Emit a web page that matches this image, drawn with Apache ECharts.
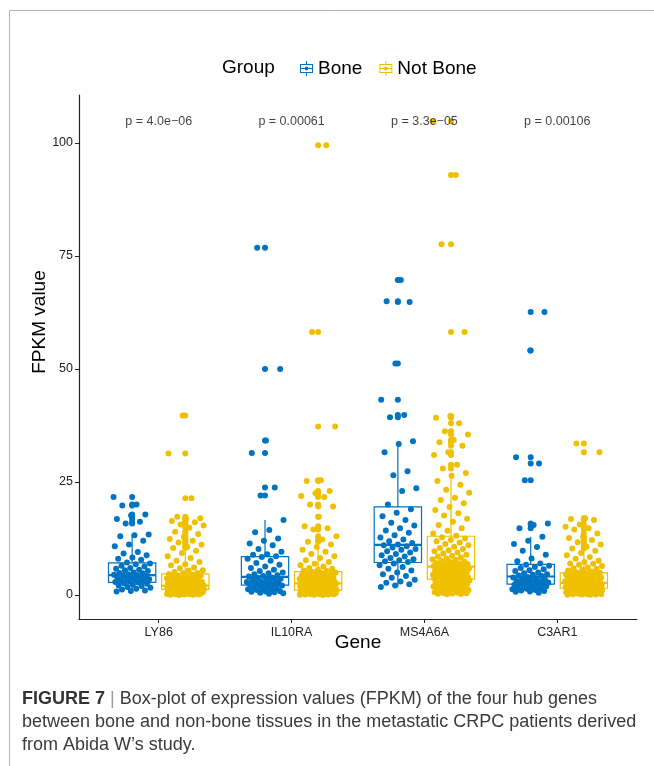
<!DOCTYPE html>
<html>
<head>
<meta charset="utf-8">
<script src="https://cdn.jsdelivr.net/npm/echarts@6/dist/echarts.min.js"></script>
<style>html,body{margin:0;padding:0;background:#fff}#c{width:654px;height:766px}</style>
</head>
<body>
<div id="c"></div>
<script>
// ---------- data ----------
const genes = ['LY86', 'IL10RA', 'MS4A6A', 'C3AR1'];
const groupNames = ['Bone', 'Not Bone'];
const pLabels = ['p = 4.0e\u221206', 'p = 0.00061', 'p = 3.3e\u221205', 'p = 0.00106'];
const yTicks = [0, 25, 50, 75, 100];
const xTicks = [0, 1, 2, 3];

const ly86Bone = [21.7,20.0,19.8,17.8,17.6,16.8,16.2,15.8,13.4,13.2,13.0,12.0,11.2,10.8,9.5,9.2,8.8,8.3,8.0,7.8,7.2,7.0,6.8,6.5,6.3,6.0,5.8,5.6,5.5,5.3,5.0,4.9,4.8,4.6,4.5,4.4,4.3,4.2,4.0,3.9,3.8,3.6,3.5,3.4,3.2,3.1,3.0,2.9,2.8,2.6,2.5,2.3,2.1,2.0,1.8,1.6,1.4,1.2,1.0,0.9,0.8];
const ly86NotBone = [39.7,31.3,21.4,17.3,17.0,16.8,16.4,16.1,15.6,15.4,14.9,14.0,13.5,12.9,12.4,12.0,11.6,11.1,10.7,10.4,
  9.8,9.3,8.6,8.2,7.6,7.3,6.8,6.6,6.1,5.9,5.5,5.4,5.1,4.9,4.8,
  4.6,4.5,4.3,4.25,4.1,4.0,3.9,3.72,3.68,3.5,3.4,3.3,3.22,3.15,3.0,2.93,2.88,2.8,2.74,2.7,2.62,2.58,2.52,2.47,2.42,2.38,2.33,2.3,2.27,2.22,2.2,2.17,2.14,2.12,2.1,
  2.06,2.02,1.97,1.95,1.9,1.87,1.83,1.8,1.79,1.74,1.7,1.69,1.65,1.62,1.6,1.56,1.55,1.51,1.5,1.47,1.44,1.43,1.4,1.39,1.36,1.35,1.33,1.32,1.3,1.3,1.29,1.28,1.27,1.26,1.25,
  1.22,1.17,1.15,1.09,1.05,1.03,0.97,0.93,0.91,0.85,0.81,0.79,0.73,0.71,0.66,0.61,0.59,0.54,0.5,0.48,0.42,0.4,0.37,0.32,0.3,0.28,0.23,0.21,0.18,0.15,0.13,0.1,0.08,0.05,0.03];

const il10raBone = [76.8,50.0,34.2,31.4,23.8,22.0,16.6,14.4,13.9,12.5,12.0,11.4,11.0,10.2,9.6,9.0,8.9,8.6,
  8.4,8.0,7.6,7.1,6.7,6.3,6.0,5.6,5.3,5.0,4.8,4.6,4.4,4.2,4.1,
  3.9,3.8,3.6,3.5,3.3,3.2,3.0,2.9,2.8,2.7,2.6,2.5,2.4,2.3,2.2,
  2.1,1.9,1.8,1.6,1.5,1.3,1.2,1.1,0.9,0.8,0.7,0.6,0.5,0.4,0.3];
const il10raNotBone = [99.5,58.2,37.3,25.4,25.2,23.0,22.5,21.9,21.7,20.0,19.6,17.3,15.2,14.8,14.5,13.0,12.3,11.8,
  11.2,10.6,10.0,9.6,9.1,8.6,8.2,7.7,7.3,6.9,6.6,6.3,6.0,5.8,5.6,5.4,5.3,
  5.1,5.0,4.9,4.75,4.6,4.52,4.4,4.2,4.12,4.0,3.9,3.83,3.7,3.6,3.52,3.45,3.38,3.3,3.2,3.16,3.08,3.0,2.96,2.9,2.86,2.81,2.79,2.75,2.71,2.69,2.66,2.64,2.62,2.61,2.6,
  2.55,2.49,2.46,2.4,2.34,2.31,2.24,2.2,2.16,2.09,2.05,2.01,1.94,1.9,1.86,1.8,1.76,1.7,1.66,1.63,1.57,1.54,1.5,1.47,1.41,1.38,1.35,1.3,1.28,1.24,1.22,1.18,1.16,1.12,1.1,
  1.08,1.04,1.02,0.98,0.96,0.92,0.9,0.87,0.82,0.8,0.77,0.72,0.7,0.67,0.62,0.6,0.57,0.52,0.5,0.46,0.44,0.39,0.37,0.33,0.3,0.28,0.24,0.2,0.18,0.16,0.12,0.1,0.07,0.05,0.03];

const ms4a6aBone = [69.7,65.0,64.8,51.2,43.2,39.8,39.3,34.0,33.4,31.6,27.4,26.5,23.6,23.0,20.0,
  19.0,18.2,17.4,16.6,16.0,15.4,14.8,14.3,13.8,13.2,12.7,12.3,11.9,11.5,11.2,
  11.0,10.8,10.5,10.2,10.0,9.7,9.4,9.1,8.8,8.5,8.2,7.9,7.7,7.5,7.3,
  7.0,6.6,6.2,5.8,5.4,5.0,4.6,4.2,3.8,3.4,3.0,2.7,2.4,2.1,1.8];
const ms4a6aNotBone = [104.8,92.9,77.6,58.2,39.6,39.2,38.0,36.2,35.5,34.3,33.8,33.0,31.6,31.0,28.8,28.0,27.0,26.4,25.2,24.4,23.3,22.6,21.5,21.0,20.3,19.5,18.8,18.1,17.6,16.9,16.2,15.5,14.8,14.2,13.6,13.1,
  12.8,12.5,12.2,11.9,11.6,11.3,11.0,10.7,10.4,10.2,9.9,9.7,9.4,9.2,8.9,8.7,8.5,8.3,8.1,7.9,7.8,7.6,7.4,7.3,7.1,7.0,6.9,6.8,6.7,6.6,6.55,6.5,6.42,6.38,6.33,6.3,
  6.2,6.1,6.02,5.9,5.8,5.7,5.62,5.5,5.4,5.33,5.2,5.1,5.02,4.9,4.8,4.72,4.6,4.5,4.42,4.3,4.22,4.18,4.1,4.03,3.98,3.92,3.88,3.82,3.78,3.72,3.68,3.63,3.6,3.57,3.52,3.5,
  3.42,3.31,3.2,3.12,3.0,2.91,2.8,2.72,2.6,2.5,2.42,2.31,2.2,2.12,2.0,1.91,1.8,1.72,1.6,1.5,1.42,1.31,1.2,1.12,1.0,0.92,0.8,0.72,0.6,0.52,0.45,0.41,0.35,0.3,0.25,0.2];

const c3ar1Bone = [62.6,54.1,30.5,29.1,25.4,15.8,15.5,14.8,12.9,12.0,11.3,10.6,9.8,8.9,8.1,7.5,7.0,
  6.7,6.5,6.2,6.0,5.7,5.5,5.3,5.0,4.8,4.6,4.5,4.3,4.2,
  4.0,3.9,3.7,3.6,3.4,3.3,3.1,3.0,2.9,2.8,2.7,2.6,2.5,2.4,
  2.3,2.2,2.0,1.9,1.8,1.7,1.5,1.4,1.3,1.1,1.0,0.9,0.8,0.7,0.5];
const c3ar1NotBone = [33.5,31.6,17.0,16.8,16.6,15.6,15.1,14.8,14.5,13.6,12.9,12.6,12.2,11.7,11.2,10.7,10.3,
  9.8,9.3,8.8,8.4,8.0,7.6,7.3,7.0,6.9,6.7,6.4,6.1,5.9,5.8,5.6,5.4,5.2,5.0,4.95,
  4.85,4.78,4.7,4.6,4.52,4.45,4.38,4.3,4.2,4.14,4.05,3.98,3.9,3.82,3.76,3.7,3.62,3.55,3.48,3.4,3.35,3.28,3.2,3.15,3.08,3.02,2.96,2.9,2.86,2.82,2.78,2.76,2.74,2.72,2.71,2.7,
  2.66,2.61,2.57,2.52,2.48,2.43,2.4,2.35,2.31,2.27,2.22,2.19,2.15,2.11,2.07,2.03,2.0,1.96,1.92,1.88,1.85,1.81,1.78,1.74,1.71,1.68,1.65,1.62,1.6,1.57,1.55,1.53,1.52,1.51,1.5,1.5,
  1.46,1.41,1.38,1.33,1.3,1.26,1.22,1.18,1.14,1.1,1.06,1.02,0.98,0.94,0.9,0.85,0.81,0.77,0.73,0.68,0.64,0.6,0.55,0.5,0.46,0.41,0.37,0.32,0.28,0.24,0.2,0.17,0.13,0.1,0.07,0.05];

// box statistics
const boneQ1 = [2.8, 2.2, 7.2, 2.4];
const boneMedian = [4.4, 4.0, 11.1, 4.1];
const boneQ3 = [7.1, 8.5, 19.5, 6.8];
const boneLow = [0.8, 0.3, 1.8, 0.5];
const boneHigh = [13.4, 16.6, 34.0, 12.9];
const notBoneQ1 = [1.25, 1.1, 3.5, 1.5];
const notBoneMedian = [2.1, 2.6, 6.3, 2.7];
const notBoneQ3 = [4.7, 5.2, 13.0, 4.9];
const notBoneLow = [0.03, 0.03, 0.2, 0.05];
const notBoneHigh = [9.8, 11.2, 27.0, 9.8];

// ---------- build ----------
const COLORS = ['#0073C2', '#EFC000'];
const DODGE = 0.2, BOX_HALF = 0.178, JITTER = 0.14;
const FONT = 'Liberation Sans, Arial, Helvetica, sans-serif';

const groups = [
  { values: [ly86Bone, il10raBone, ms4a6aBone, c3ar1Bone], q1: boneQ1, med: boneMedian, q3: boneQ3, lo: boneLow, hi: boneHigh },
  { values: [ly86NotBone, il10raNotBone, ms4a6aNotBone, c3ar1NotBone], q1: notBoneQ1, med: notBoneMedian, q3: notBoneQ3, lo: notBoneLow, hi: notBoneHigh }
];

function renderBox(params, api) {
  const x = api.value(0), lo = api.value(1), q1 = api.value(2), med = api.value(3), q3 = api.value(4), hi = api.value(5);
  const c = api.visual('color');
  const tl = api.coord([x - BOX_HALF, q3]), br = api.coord([x + BOX_HALF, q1]);
  const mL = api.coord([x - BOX_HALF, med]), mR = api.coord([x + BOX_HALF, med]);
  const pHi = api.coord([x, hi]), pQ3 = api.coord([x, q3]), pQ1 = api.coord([x, q1]), pLo = api.coord([x, lo]);
  return {
    type: 'group',
    children: [
      { type: 'line', shape: { x1: pHi[0], y1: pHi[1], x2: pQ3[0], y2: pQ3[1] }, style: { stroke: c, lineWidth: 1.2 } },
      { type: 'line', shape: { x1: pLo[0], y1: pLo[1], x2: pQ1[0], y2: pQ1[1] }, style: { stroke: c, lineWidth: 1.2 } },
      { type: 'rect', shape: { x: tl[0], y: tl[1], width: br[0] - tl[0], height: br[1] - tl[1] }, style: { fill: '#fff', stroke: c, lineWidth: 1.2 } },
      { type: 'line', shape: { x1: mL[0], y1: mL[1], x2: mR[0], y2: mR[1] }, style: { stroke: c, lineWidth: 2.2 } }
    ]
  };
}

const series = [];
groups.forEach((g, gi) => {
  const sign = gi === 0 ? -1 : 1;
  const boxData = genes.map((_, k) => [k + sign * DODGE, g.lo[k], g.q1[k], g.med[k], g.q3[k], g.hi[k]]);
  series.push({
    name: groupNames[gi], type: 'custom', renderItem: renderBox, data: boxData,
    encode: { x: 0, y: [1, 2, 3, 4, 5] }, itemStyle: { color: COLORS[gi] }, z: 2, silent: true
  });
  const outliers = [];
  const jit = [];
  g.values.forEach((arr, k) => {
    const cx = k + sign * DODGE;
    arr.forEach((v, i) => {
      if (v > g.hi[k]) outliers.push([cx, v]);
      // deterministic golden-ratio horizontal spread (layout only)
      const f = ((i * 0.6180339887 + k * 0.29 + gi * 0.43) % 1) - 0.5;
      jit.push([cx + f * 2 * JITTER, v]);
    });
  });
  series.push({
    name: groupNames[gi], type: 'scatter', data: outliers, symbolSize: 6,
    itemStyle: { color: COLORS[gi], opacity: 1 }, z: 3, silent: true
  });
  series.push({
    name: groupNames[gi], type: 'scatter', data: jit, symbolSize: 6,
    itemStyle: { color: COLORS[gi], opacity: 1 }, z: 4, silent: true
  });
});

series.push({
  type: 'scatter', symbolSize: 0, silent: true, z: 5,
  data: genes.map((_, k) => [k, 104.8]),
  label: { show: true, position: 'inside', formatter: p => pLabels[p.dataIndex], fontSize: 12.5, color: '#111', fontFamily: FONT }
});

const iconPath = 'path://M6,0L7,0L7,3L6,3Z M0,3L13,3L13,12L0,12Z M1,4L1,11L12,11L12,4Z M1,7L12,7L12,8L1,8Z M6,12L7,12L7,15L6,15Z M8.4,7.5A1.9,1.9 0 1 1 4.6,7.5A1.9,1.9 0 1 1 8.4,7.5Z';

const option = {
  animation: false,
  backgroundColor: '#fff',
  textStyle: { fontFamily: FONT },
  title: {
    text: 'Group', left: 222, top: 58, padding: 0,
    textStyle: { fontSize: 19, fontWeight: 'normal', color: '#000', fontFamily: FONT }
  },
  legend: {
    left: 300, top: 59, padding: 0, itemGap: 17, itemWidth: 13, itemHeight: 15,
    textStyle: { fontSize: 19, color: '#000', fontFamily: FONT },
    data: groupNames.map((n, i) => ({ name: n, icon: iconPath, itemStyle: { color: COLORS[i], borderWidth: 0 } }))
  },
  grid: { left: 79, right: 17, top: 95, bottom: 147, containLabel: false },
  xAxis: {
    type: 'value', min: -0.6, max: 3.6,
    name: 'Gene', nameLocation: 'middle', nameGap: 14, nameMoveOverlap: false,
    nameTextStyle: { fontSize: 19, color: '#000', fontFamily: FONT },
    axisLine: { onZero: false, lineStyle: { color: '#222', width: 1.2 } },
    axisTick: { customValues: xTicks, length: 4, lineStyle: { color: '#222', width: 1 } },
    axisLabel: { customValues: xTicks, formatter: v => genes[Math.round(v)], fontSize: 12.5, color: '#222', margin: 7, fontFamily: FONT },
    splitLine: { show: false }
  },
  yAxis: {
    type: 'value', min: -5.3, max: 110.6,
    axisLine: { show: true, onZero: false, lineStyle: { color: '#222', width: 1.2 } },
    axisTick: { show: true, customValues: yTicks, length: 4, lineStyle: { color: '#222', width: 1 } },
    axisLabel: { customValues: yTicks, fontSize: 12.5, color: '#222', margin: 6, fontFamily: FONT },
    splitLine: { show: false }
  },
  graphic: [
    { type: 'line', shape: { x1: 9.5, y1: 10.5, x2: 9.5, y2: 766 }, style: { stroke: '#b4b4b4', lineWidth: 1 }, silent: true },
    { type: 'line', shape: { x1: 9.5, y1: 10.5, x2: 654, y2: 10.5 }, style: { stroke: '#b4b4b4', lineWidth: 1 }, silent: true },
    {
      type: 'text', x: 40, y: 322, rotation: Math.PI / 2, silent: true,
      style: { text: 'FPKM value', fontSize: 19, fill: '#000', fontFamily: FONT, align: 'center', verticalAlign: 'middle' }
    },
    {
      type: 'text', left: 22, top: 688, silent: true,
      style: {
        text: '{b|FIGURE 7} {bar||} Box-plot of expression values (FPKM) of the four hub genes\nbetween bone and non-bone tissues in the metastatic CRPC patients derived\nfrom Abida W\u2019s study.',
        fontSize: 18, lineHeight: 23, fill: '#3a3a3a', fontFamily: FONT,
        rich: {
          b: { fontWeight: 'bold', fontSize: 18, fill: '#333', fontFamily: FONT, lineHeight: 23 },
          bar: { fontSize: 18, fill: '#999', fontFamily: FONT, lineHeight: 23 }
        }
      }
    }
  ],
  series: series
};

const chart = echarts.init(document.getElementById('c'), null, { renderer: 'canvas' });
chart.setOption(option);
</script>
</body>
</html>
